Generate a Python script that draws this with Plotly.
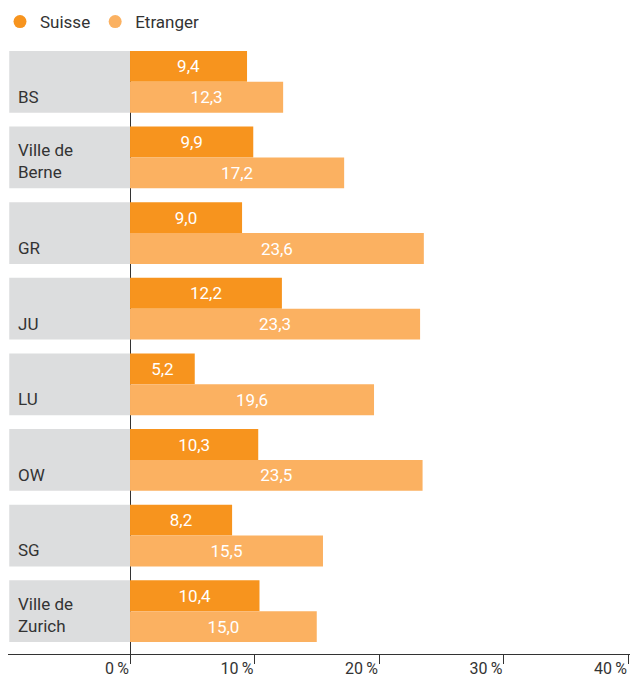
import plotly.graph_objects as go

# Share of people concerned, by region and nationality (%)
regions = ["BS", "Ville de<br>Berne", "GR", "JU", "LU", "OW", "SG", "Ville de<br>Zurich"]
suisse = [9.4, 9.9, 9.0, 12.2, 5.2, 10.3, 8.2, 10.4]
etranger = [12.3, 17.2, 23.6, 23.3, 19.6, 23.5, 15.5, 15.0]
tick_values = [0, 10, 20, 30, 40]
tick_labels = ["0\u2009%", "10\u2009%", "20\u2009%", "30\u2009%", "40\u2009%"]

C_SUISSE = "#F7941E"
C_ETRANGER = "#FBB161"
C_LABEL_BOX = "#DCDDDE"
C_TEXT = "#333333"
FONT = "Roboto"

W, H = 630, 678
X_MIN, X_MAX = -9.8, 40.16
BARGAP = 0.184
HALF_GROUP = (1 - BARGAP) / 2

fig = go.Figure()

for name, vals, col in [("Suisse", suisse, C_SUISSE), ("Etranger", etranger, C_ETRANGER)]:
    fig.add_trace(go.Bar(
        y=list(range(len(regions))), x=vals, orientation="h", name=name,
        marker=dict(color=col, line=dict(width=0)),
        texttemplate="%{x:.1f}", textposition="inside", insidetextanchor="middle",
        textangle=0, insidetextfont=dict(color="white", size=17, family=FONT),
        showlegend=False, hoverinfo="skip",
    ))
    # round legend markers
    fig.add_trace(go.Scatter(
        x=[None], y=[None], mode="markers", name=name,
        marker=dict(symbol="circle", size=13, color=col),
    ))

# grey label boxes and region names
for i, lab in enumerate(regions):
    fig.add_shape(type="rect", xref="x", yref="y", layer="below",
                  x0=X_MIN + 0.1, x1=0, y0=i - HALF_GROUP, y1=i + HALF_GROUP,
                  fillcolor=C_LABEL_BOX, line=dict(width=0))
    fig.add_annotation(xref="x", yref="y", x=X_MIN + 0.65, y=i + HALF_GROUP,
                       xanchor="left", yanchor="bottom", yshift=4, align="left",
                       text=lab, showarrow=False,
                       font=dict(size=17, color=C_TEXT, family=FONT))

fig.update_layout(
    width=W, height=H,
    margin=dict(l=8, r=0, t=51, b=21),
    plot_bgcolor="white", paper_bgcolor="white",
    barmode="group", bargap=BARGAP, bargroupgap=0,
    separators=", ",
    font=dict(family=FONT, color=C_TEXT, size=16),
    legend=dict(orientation="h", x=-0.033, xanchor="left", y=0.994, yanchor="top",
                yref="container", font=dict(size=17, color=C_TEXT, family=FONT),
                itemwidth=30, tracegroupgap=0, bgcolor="rgba(0,0,0,0)"),
    xaxis=dict(range=[X_MIN, X_MAX], tickvals=tick_values, ticktext=tick_labels,
               ticks="outside", ticklen=9, tickcolor=C_TEXT, tickwidth=1,
               ticklabelposition="outside left",
               showline=True, linecolor=C_TEXT, linewidth=1,
               showgrid=False, zeroline=True, zerolinecolor=C_TEXT, zerolinewidth=1,
               tickfont=dict(size=16, color=C_TEXT, family=FONT), fixedrange=True),
    yaxis=dict(range=[7.566, -0.408], showticklabels=False, ticks="",
               showgrid=False, zeroline=False, showline=False, fixedrange=True),
)

fig.write_html("out.html")
